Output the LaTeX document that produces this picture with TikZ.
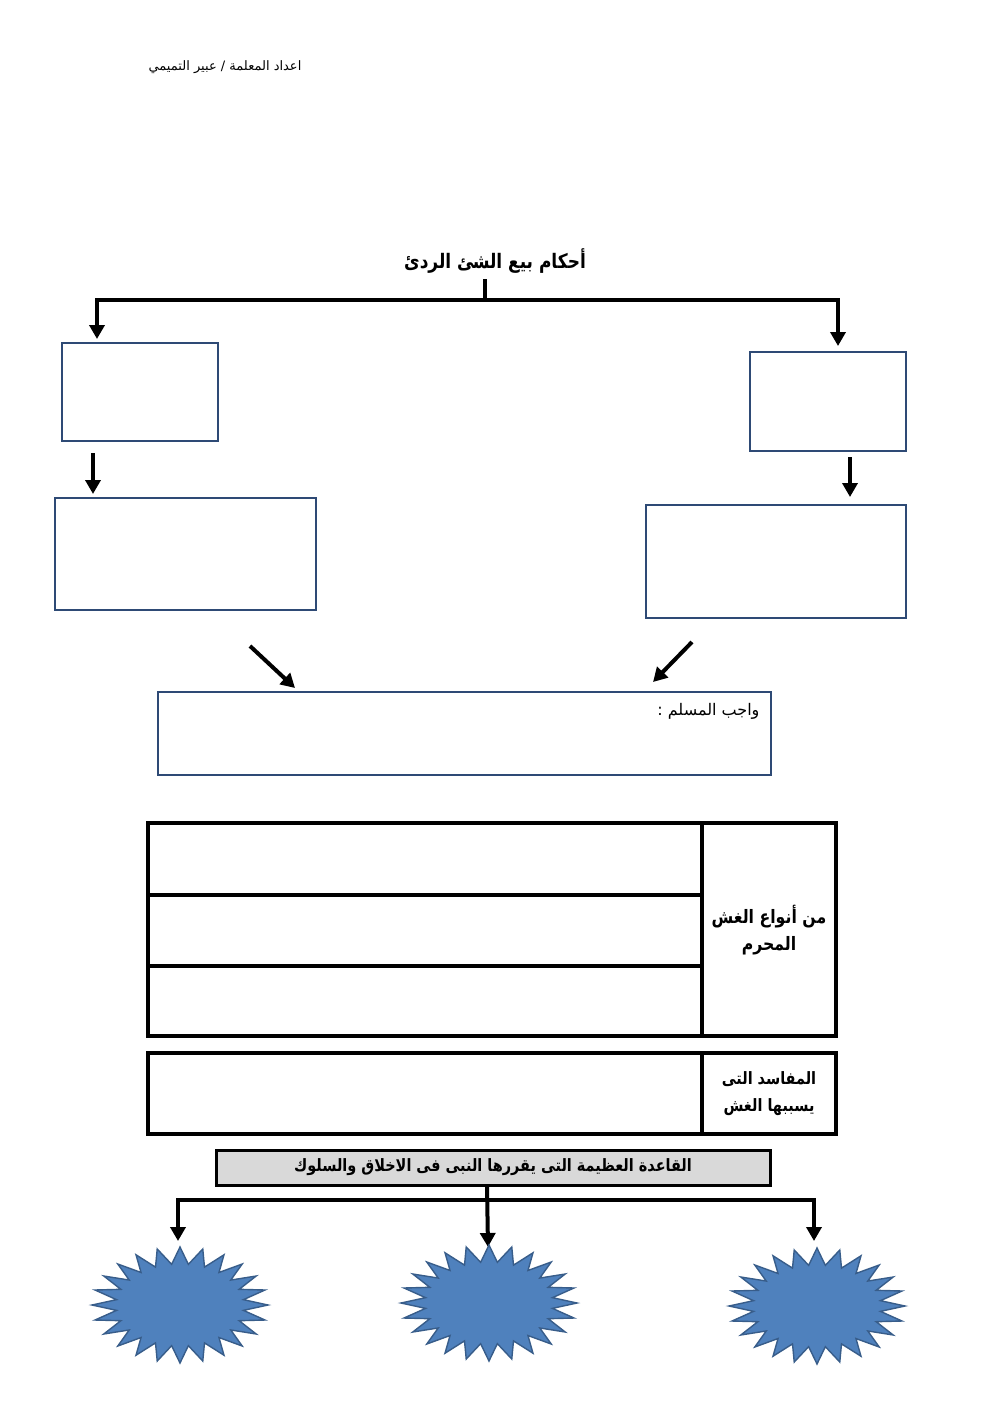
\documentclass[tikz,border=0pt]{standalone}
\usepackage{fontspec}
\usetikzlibrary{arrows.meta}
\TeXXeTstate=1
\newfontfamily\arabicfont[Script=Arabic]{DejaVu Sans}
\newfontfamily\arabicnarrow[Script=Arabic,FakeStretch=0.85]{DejaVu Sans}
\definecolor{boxblue}{HTML}{2E4A75}
\definecolor{starfill}{HTML}{4F81BD}
\definecolor{stardraw}{HTML}{385D8A}
\definecolor{graybox}{HTML}{D9D9D9}
\tikzset{
  bluebox/.style={draw=boxblue,line width=2.6pt},
  blkline/.style={line width=4pt,line cap=rect},
  arr/.style={line width=4pt,-{Triangle[width=15pt,length=14pt]}},
  tbl/.style={draw=black,line width=3.4pt},
  lbl/.style={font=\arabicnarrow\bfseries\fontsize{18.5}{27}\selectfont,align=center},
}
\begin{document}
\begin{tikzpicture}[x=1pt,y=-1pt]
\useasboundingbox (0,0) rectangle (992,1403);
% header
\node[font=\arabicfont\fontsize{13}{15}\selectfont] (hdr) at (225,67) {\beginR اعداد المعلمة / عبير التميمي\endR};
% title
\node[font=\arabicnarrow\bfseries\fontsize{20}{25}\selectfont] (title) at (495,261) {\beginR أحكام بيع الشئ الردئ\endR};
\coordinate (stemtop) at (485,281);
\coordinate (stembot) at (485,300);
\coordinate (hl) at (97,300);
\coordinate (hr) at (838,300);
\draw[blkline] (stemtop) -- (stembot);
\draw[blkline,line cap=butt] ([xshift=-2pt]hl) -- ([xshift=2pt]hr);
% boxes
\node[bluebox,minimum width=156pt,minimum height=98pt,inner sep=0pt] (L1) at (140,392) {};
\node[bluebox,minimum width=156pt,minimum height=99pt,inner sep=0pt] (R1) at (828,401.5) {};
\node[bluebox,minimum width=261pt,minimum height=112pt,inner sep=0pt] (L2) at (185.5,554) {};
\node[bluebox,minimum width=260pt,minimum height=113pt,inner sep=0pt] (R2) at (776,561.5) {};
\node[bluebox,minimum width=613pt,minimum height=83pt,inner sep=0pt] (W) at (464.5,733.5) {};
\node[font=\arabicfont\fontsize{16}{19}\selectfont,anchor=north east] (wtxt) at (763,700) {\beginR واجب المسلم :\endR};
% arrows top
\draw[arr] (hl) -- (97,339);
\draw[arr] (hr) -- (838,346);
\coordinate (a1s) at (93,453);
\coordinate (a2s) at (850,457);
\draw[arr] (a1s) -- (93,494);
\draw[arr] (a2s) -- (850,497);
\coordinate (d1s) at (250,646);
\coordinate (d2s) at (692,642);
\draw[arr] (d1s) -- (295,688);
\draw[arr] (d2s) -- (653,682);
% table 1
\draw[tbl] (148,823) rectangle (836,1036);
\draw[tbl] (702,823) -- (702,1036);
\draw[tbl] (148,895) -- (702,895);
\draw[tbl] (148,966) -- (702,966);
\node[lbl] (t1) at (769,930) {\beginR من أنواع الغش\endR\\\beginR المحرم\endR};
% table 2
\draw[tbl] (148,1053) rectangle (836,1134);
\draw[tbl] (702,1053) -- (702,1134);
\node[lbl,font=\arabicnarrow\bfseries\fontsize{17}{27}\selectfont] (t2) at (769,1094) {\beginR المفاسد التى\endR\\\beginR يسببها الغش\endR};
% gray box
\node[draw=black,line width=3pt,fill=graybox,minimum width=554pt,minimum height=35pt,inner sep=0pt,font=\arabicnarrow\bfseries\fontsize{17}{20}\selectfont] (G) at (493,1167.5) {\beginR القاعدة العظيمة التى يقررها النبى فى الاخلاق والسلوك\endR};
% bottom connectors
\coordinate (bl) at (178,1200);
\coordinate (br) at (814,1200);
\draw[blkline,line cap=butt] ([xshift=-2pt]bl) -- ([xshift=2pt]br);
\draw[arr] (G.south -| 487,0) -- (488,1247);
\draw[arr] (bl) -- (178,1241);
\draw[arr] (br) -- (814,1241);
% starbursts
\foreach \cx/\cy/\nm in {180/1305/s1, 489/1303/s2, 817/1306/s3}{
  \draw[fill=starfill,draw=stardraw,line width=1.4pt]
    plot[samples at={0,...,47}] ({\cx+ifthenelse(mod(\x,2)==0,88,64)*sin(\x*7.5)},{\cy-ifthenelse(mod(\x,2)==0,58,41)*cos(\x*7.5)}) -- cycle;
  \coordinate (\nm) at (\cx,\cy);
}
\end{tikzpicture}
\end{document}
